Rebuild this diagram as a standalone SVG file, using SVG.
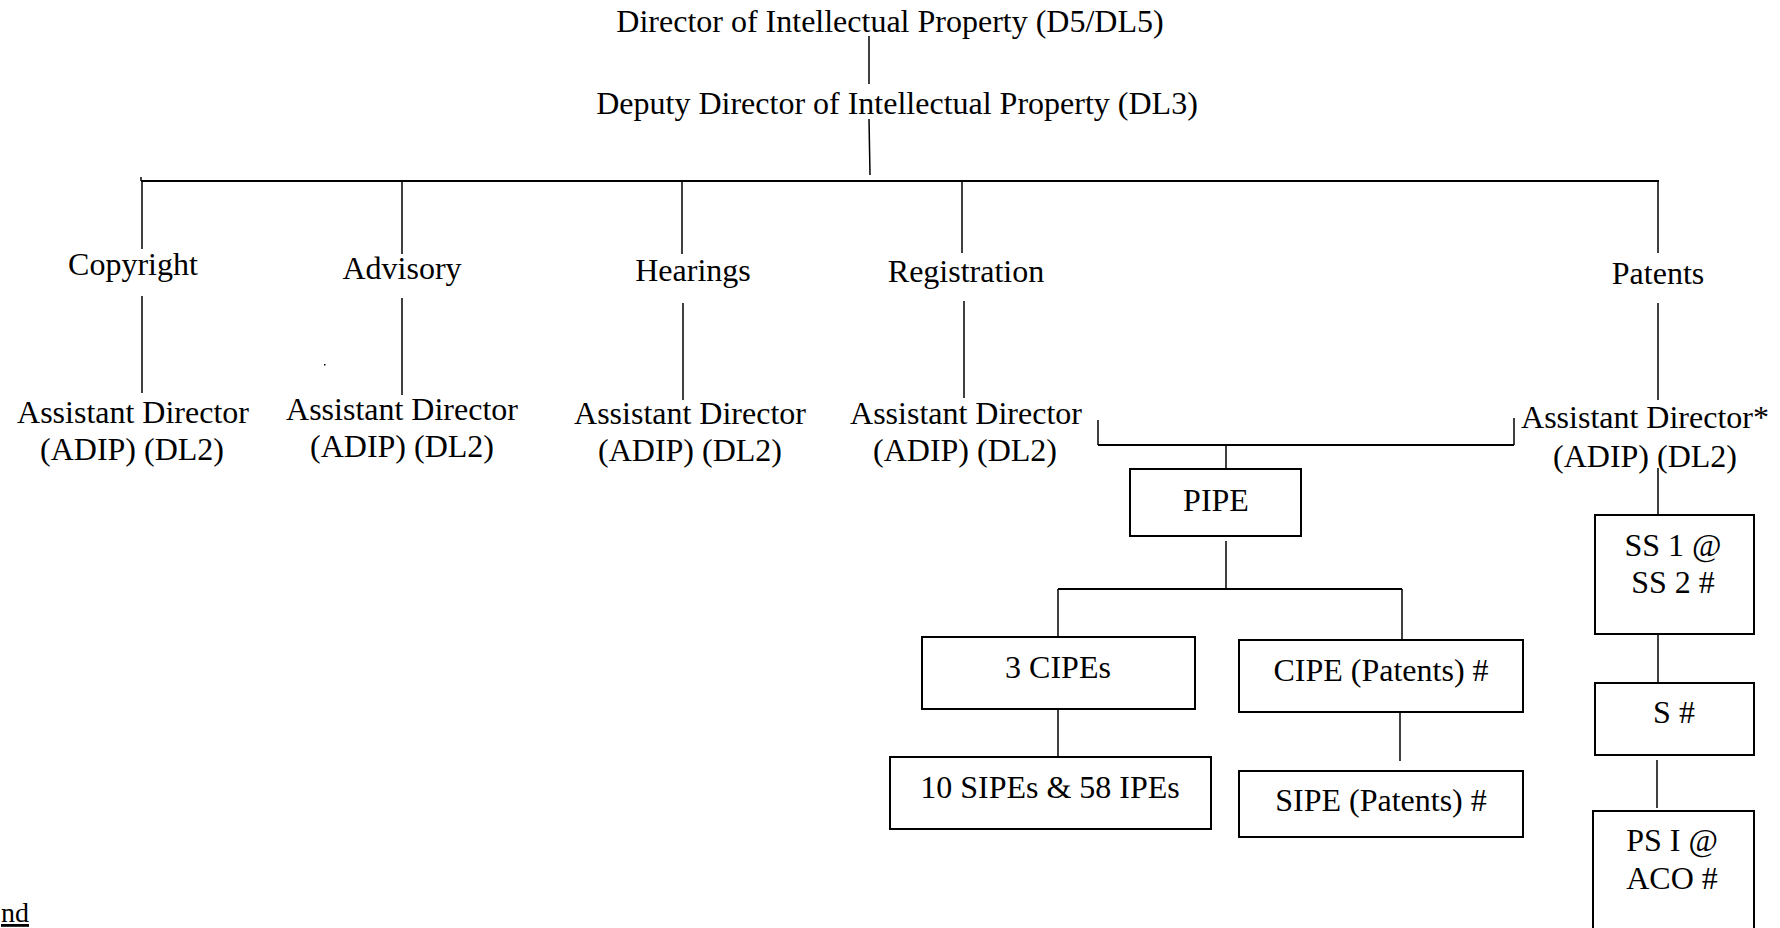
<svg xmlns="http://www.w3.org/2000/svg" width="1780" height="928" viewBox="0 0 1780 928">
<style>
text{font-family:"Liberation Serif","Times New Roman",serif;font-size:32px;fill:#000;text-anchor:middle}
.ln{stroke:#000;stroke-width:1.5;fill:none}
.hl{stroke:#000;stroke-width:2.2;fill:none}
.box{fill:#fff;stroke:#000;stroke-width:2}
</style>
<rect width="1780" height="928" fill="#fff"/>
<g id="connectors">
<line class="ln" x1="869" y1="36" x2="869" y2="84"/>
<line class="ln" x1="869" y1="119" x2="870" y2="175"/>
<line class="hl" x1="141" y1="181" x2="1659" y2="181"/>
<line class="ln" x1="141" y1="177" x2="141" y2="181"/>
<line class="ln" x1="142" y1="181" x2="142" y2="249"/>
<line class="ln" x1="402" y1="181" x2="402" y2="254"/>
<line class="ln" x1="682" y1="181" x2="682" y2="254"/>
<line class="ln" x1="962" y1="181" x2="962" y2="253"/>
<line class="ln" x1="1658" y1="181" x2="1658" y2="253"/>
<line class="ln" x1="142" y1="296" x2="142" y2="393"/>
<line class="ln" x1="402" y1="298" x2="402" y2="395"/>
<line class="ln" x1="683" y1="303" x2="683" y2="400"/>
<line class="ln" x1="964" y1="301" x2="964" y2="398"/>
<line class="ln" x1="1658" y1="303" x2="1658" y2="400"/>
<line class="ln" x1="1098" y1="420" x2="1098" y2="445"/>
<line class="ln" x1="1514" y1="418" x2="1514" y2="445"/>
<line class="hl" x1="1098" y1="445" x2="1514" y2="445"/>
<line class="ln" x1="1226" y1="445" x2="1226" y2="469"/>
<line class="ln" x1="1226" y1="541" x2="1226" y2="589"/>
<line class="hl" x1="1058" y1="589" x2="1402" y2="589"/>
<line class="ln" x1="1058" y1="589" x2="1058" y2="637"/>
<line class="ln" x1="1402" y1="589" x2="1402" y2="640"/>
<line class="ln" x1="1058" y1="709" x2="1058" y2="757"/>
<line class="ln" x1="1400" y1="712" x2="1400" y2="761"/>
<line class="ln" x1="1658" y1="468" x2="1658" y2="515"/>
<line class="ln" x1="1658" y1="634" x2="1658" y2="683"/>
<line class="ln" x1="1657" y1="760" x2="1657" y2="808"/>
</g>
<g id="director"><text x="890" y="32">Director of Intellectual Property (D5/DL5)</text></g>
<g id="deputy"><text x="897" y="114">Deputy Director of Intellectual Property (DL3)</text></g>
<g id="copyright"><text x="133" y="275">Copyright</text></g>
<g id="advisory"><text x="402" y="279">Advisory</text></g>
<g id="hearings"><text x="693" y="281">Hearings</text></g>
<g id="registration"><text x="966" y="282">Registration</text></g>
<g id="patents"><text x="1658" y="284">Patents</text></g>
<g id="ad-copyright"><text x="133" y="423">Assistant Director</text><text x="132" y="460">(ADIP) (DL2)</text></g>
<g id="ad-advisory"><text x="402" y="420">Assistant Director</text><text x="402" y="457">(ADIP) (DL2)</text></g>
<g id="ad-hearings"><text x="690" y="424">Assistant Director</text><text x="690" y="461">(ADIP) (DL2)</text></g>
<g id="ad-registration"><text x="966" y="424">Assistant Director</text><text x="965" y="461">(ADIP) (DL2)</text></g>
<g id="ad-patents"><text x="1645" y="428">Assistant Director*</text><text x="1645" y="467">(ADIP) (DL2)</text></g>
<rect x="324" y="364" width="1.5" height="1.5" fill="#000"/>
<g id="pipe"><rect class="box" x="1130" y="469" width="171" height="67"/><text x="1216" y="511">PIPE</text></g>
<g id="cipes"><rect class="box" x="922" y="637" width="273" height="72"/><text x="1058" y="678">3 CIPEs</text></g>
<g id="cipe-patents"><rect class="box" x="1239" y="640" width="284" height="72"/><text x="1381" y="681">CIPE (Patents) #</text></g>
<g id="sipes"><rect class="box" x="890" y="757" width="321" height="72"/><text x="1050" y="798">10 SIPEs &amp; 58 IPEs</text></g>
<g id="sipe-patents"><rect class="box" x="1239" y="771" width="284" height="66"/><text x="1381" y="811">SIPE (Patents) #</text></g>
<g id="ss"><rect class="box" x="1595" y="515" width="159" height="119"/><text x="1673" y="556">SS 1 @</text><text x="1673" y="593">SS 2 #</text></g>
<g id="s"><rect class="box" x="1595" y="683" width="159" height="72"/><text x="1674" y="723">S #</text></g>
<g id="ps"><rect class="box" x="1593" y="811" width="161" height="130"/><text x="1672" y="851">PS I @</text><text x="1672" y="889">ACO #</text></g>
<g id="legend"><text x="1" y="922" style="text-anchor:start;font-size:28px;text-decoration:underline">nd</text></g>
</svg>
